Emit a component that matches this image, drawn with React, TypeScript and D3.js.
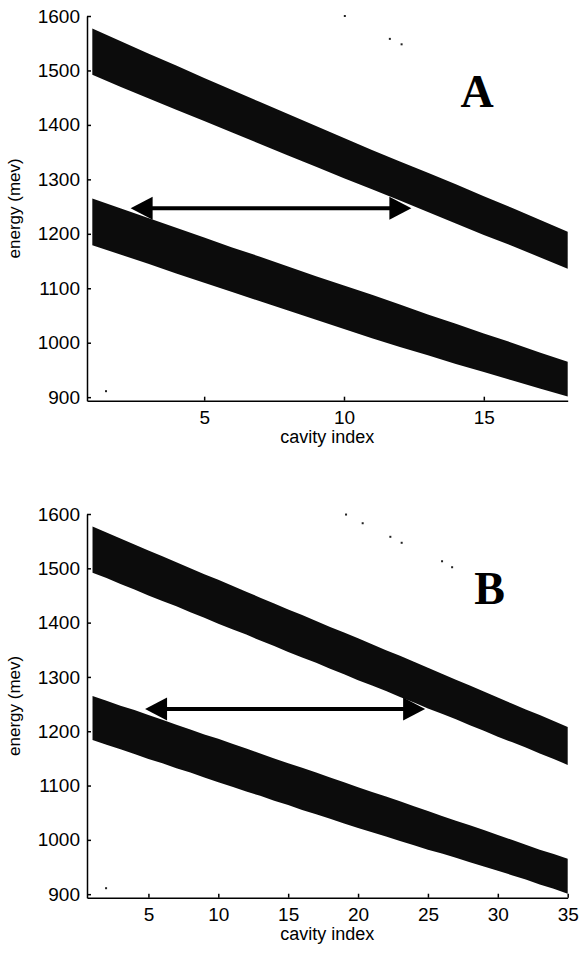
import React, { useEffect, useRef } from "react";
import * as d3 from "d3";

// panel A, 18 cavities: band edges (mev) for each cavity index 1..18
const upperTopA = [1577, 1554, 1531, 1509, 1486, 1464, 1442, 1420, 1398, 1376, 1354, 1333, 1312, 1291, 1269, 1248, 1226, 1204];
const upperBottomA = [1492, 1470, 1449, 1428, 1407, 1386, 1365, 1344, 1323, 1302, 1282, 1261, 1240, 1219, 1198, 1178, 1157, 1136];
const lowerTopA = [1265, 1247, 1229, 1211, 1193, 1175, 1158, 1140, 1122, 1105, 1088, 1070, 1052, 1035, 1017, 1000, 982, 965];
const lowerBottomA = [1179, 1162, 1145, 1127, 1110, 1093, 1076, 1059, 1042, 1025, 1008, 992, 977, 961, 946, 931, 916, 901];

// panel B, 35 cavities
const upperTopB = [1577, 1566, 1555, 1544, 1533, 1522, 1511, 1500, 1489, 1479, 1468, 1457, 1446, 1435, 1424, 1414, 1403, 1392, 1382, 1371, 1360, 1349, 1339, 1328, 1317, 1306, 1295, 1284, 1273, 1262, 1251, 1240, 1230, 1219, 1208];
const upperBottomB = [1492, 1482, 1471, 1461, 1450, 1440, 1430, 1419, 1409, 1398, 1388, 1378, 1367, 1357, 1346, 1336, 1326, 1315, 1305, 1294, 1284, 1274, 1263, 1253, 1242, 1232, 1222, 1211, 1201, 1190, 1180, 1170, 1159, 1149, 1138];
const lowerTopB = [1265, 1256, 1247, 1239, 1230, 1221, 1212, 1203, 1194, 1186, 1177, 1168, 1159, 1150, 1141, 1133, 1124, 1115, 1106, 1097, 1088, 1080, 1071, 1062, 1053, 1044, 1035, 1027, 1018, 1009, 1000, 991, 982, 974, 965];
const lowerBottomB = [1184, 1175, 1167, 1158, 1149, 1141, 1132, 1124, 1115, 1106, 1098, 1089, 1081, 1072, 1064, 1055, 1047, 1039, 1030, 1022, 1014, 1006, 998, 990, 982, 975, 967, 959, 951, 943, 935, 927, 918, 910, 901];

const energyTicks = [900, 1000, 1100, 1200, 1300, 1400, 1500, 1600];
const cavityTicksA = [5, 10, 15];
const cavityTicksB = [5, 10, 15, 20, 25, 30, 35];

// stray points [cavity, energy]
const dotsA: [number, number][] = [[10.03, 1600], [11.64, 1558], [12.06, 1548], [1.49, 911]];
const dotsB: [number, number][] = [[19.14, 1599], [20.33, 1583], [22.31, 1558], [23.12, 1547], [26.01, 1513], [26.73, 1502], [1.97, 911]];

// double arrows [from cavity, to cavity, energy]
const arrowA = [2.37, 12.41, 1247];
const arrowB = [4.76, 24.8, 1241];

interface PanelProps {
  bands: number[][][];
  dots: [number, number][];
  arrow: number[];
  cavityTicks: number[];
  xMin: number;
  xMax: number;
  top: number;
  bottom: number;
  letter: string;
  letterX: number;
}

const drawPanel = (root: d3.Selection<SVGSVGElement, unknown, null, undefined>, p: PanelProps) => {
  const left = 87;
  const right = 567.7;
  const x = d3.scaleLinear().domain([p.xMin, p.xMax]).range([left, right]);
  const y = d3.scaleLinear().domain([893.5, 1600]).range([p.bottom, p.top]);

  const g = root.append("g");

  // bands
  p.bands.forEach(([hi, lo]) => {
    const area = d3
      .area<number>()
      .x((_, i) => x(i + 1))
      .y0((_, i) => y(lo[i]))
      .y1((d) => y(d));
    g.append("path").attr("d", area(hi)!).attr("fill", "#0c0c0c");
  });

  // stray points
  g.selectAll(".dot")
    .data(p.dots)
    .enter()
    .append("rect")
    .attr("x", (d) => x(d[0]) - 1)
    .attr("y", (d) => y(d[1]) - 1)
    .attr("width", 2)
    .attr("height", 2)
    .attr("fill", "#222");

  // arrow
  const [a0, a1, ae] = p.arrow;
  const ax0 = x(a0);
  const ax1 = x(a1);
  const ay = y(ae);
  const headL = 22;
  const headH = 11.5;
  g.append("line")
    .attr("x1", ax0 + headL - 2)
    .attr("x2", ax1 - headL + 2)
    .attr("y1", ay)
    .attr("y2", ay)
    .attr("stroke", "#000")
    .attr("stroke-width", 4);
  g.append("path")
    .attr("d", `M${ax0},${ay}L${ax0 + headL},${ay - headH}L${ax0 + headL},${ay + headH}Z`)
    .attr("fill", "#000");
  g.append("path")
    .attr("d", `M${ax1},${ay}L${ax1 - headL},${ay - headH}L${ax1 - headL},${ay + headH}Z`)
    .attr("fill", "#000");

  // axes
  const yAxis = g
    .append("g")
    .attr("transform", `translate(${left},0)`)
    .call(
      d3.axisLeft(y).tickValues(energyTicks).tickFormat(d3.format("d")).tickSize(-4).tickSizeOuter(0).tickPadding(7)
    );
  const xAxis = g
    .append("g")
    .attr("transform", `translate(0,${p.bottom})`)
    .call(
      d3.axisBottom(x).tickValues(p.cavityTicks).tickFormat(d3.format("d")).tickSize(-4).tickSizeOuter(0).tickPadding(10)
    );

  [yAxis, xAxis].forEach((ax) => {
    ax.select(".domain").attr("stroke", "#000").attr("stroke-width", 1.5);
    ax.selectAll(".tick line").attr("stroke", "#000").attr("stroke-width", 1.5);
    ax.selectAll("text")
      .attr("fill", "#000")
      .style("font-family", "'Liberation Sans', Arial, sans-serif")
      .style("font-size", "19px");
  });

  g.append("text")
    .attr("x", (left + right) / 2)
    .attr("y", p.bottom + 42)
    .attr("text-anchor", "middle")
    .style("font-family", "'Liberation Sans', Arial, sans-serif")
    .style("font-size", "18px")
    .text("cavity index");

  g.append("text")
    .attr("transform", `translate(20,${(p.top + p.bottom) / 2}) rotate(-90)`)
    .attr("text-anchor", "middle")
    .style("font-family", "'Liberation Sans', Arial, sans-serif")
    .style("font-size", "17px")
    .text("energy (mev)");

  g.append("text")
    .attr("x", p.letterX)
    .attr("y", p.top + (p.letter === "A" ? 91 : 90))
    .attr("text-anchor", "middle")
    .style("font-family", "'Liberation Serif', 'Times New Roman', serif")
    .style("font-weight", "bold")
    .style("font-size", "46px")
    .text(p.letter);
};

const App: React.FC = () => {
  const svgRef = useRef<SVGSVGElement | null>(null);

  useEffect(() => {
    if (!svgRef.current) return;
    const svg = d3.select(svgRef.current);
    svg.selectAll("*").remove();

    drawPanel(svg, {
      bands: [[upperTopA, upperBottomA], [lowerTopA, lowerBottomA]],
      dots: dotsA,
      arrow: arrowA,
      cavityTicks: cavityTicksA,
      xMin: 0.81,
      xMax: 18,
      top: 16,
      bottom: 400.7,
      letter: "A",
      letterX: 477,
    });

    drawPanel(svg, {
      bands: [[upperTopB, upperBottomB], [lowerTopB, lowerBottomB]],
      dots: dotsB,
      arrow: arrowB,
      cavityTicks: cavityTicksB,
      xMin: 0.605,
      xMax: 35,
      top: 514,
      bottom: 897.7,
      letter: "B",
      letterX: 489.5,
    });
  }, []);

  return (
    <svg
      ref={svgRef}
      width={579}
      height={953}
      style={{ position: "absolute", left: 0, top: 0, background: "#fff" }}
    ></svg>
  );
};

export default App;
